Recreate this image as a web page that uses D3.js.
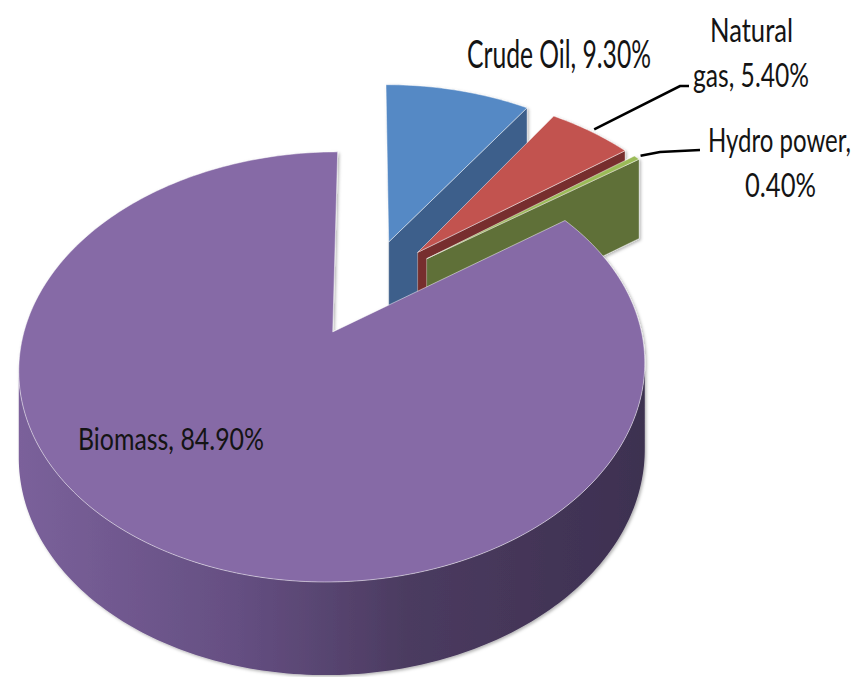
<!DOCTYPE html>
<html>
<head>
<meta charset="utf-8">
<script src="https://d3js.org/d3.v7.min.js"></script>
<title>Energy sources</title>
<style>
body { margin: 0; background: #fff; }
text { font-family: Lato, "Open Sans", sans-serif; fill: #141414; }
</style>
</head>
<body>
<div id="chart"></div>
<script>
// data
const categories = ["Crude Oil", "Natural gas", "Hydro power", "Biomass"];
const shares = [9.3, 5.4, 0.4, 84.9];
const labelLines = [["Crude Oil, 9.30%"], ["Natural", "gas, 5.40%"], ["Hydro power,", "0.40%"], ["Biomass, 84.90%"]];

// styles
const topColors = ["#5589C5", "#C2534F", "#9BBB59", "#866AA6"];
const wallColors = ["#3E5F8B", "#772F2D", "#5E7038", "#5B4878"];
const fontSizes = [39, 32, 32, 31];
// label placement, one entry per line : left x, baseline y, ink width
const labelLayout = [
  [{x: 467, y: 68, w: 184}],
  [{x: 710, y: 42, w: 83}, {x: 693, y: 87, w: 116}],
  [{x: 708, y: 152, w: 143}, {x: 745, y: 197, w: 71}],
  [{x: 78, y: 450, w: 186}]
];
// leader elbows (only the two labels that have one)
const leaders = {1: [[680, 86], [689, 86]], 2: [[660, 152], [700, 150]]};

const W = 858, H = 677;

// pseudo perspective of the pie : X to the right, Z away from the viewer
const cx = 368, cy = 287, Bh = 298, A = 195, u = 0.157;
const depthPx = 84, uh = 0.08, explode = 0.25;
function proj(X, Z, bottom) {
  const w = 1 + u * Z;
  return [cx + Bh * X / w, cy - A * Z / w + (bottom ? depthPx / (1 + uh * Z) : 0)];
}

const svg = d3.select("#chart").append("svg")
  .attr("width", W).attr("height", H);

const defs = svg.append("defs");
const grad = defs.append("linearGradient")
  .attr("id", "sideGrad")
  .attr("gradientUnits", "userSpaceOnUse")
  .attr("x1", 15).attr("x2", 650).attr("y1", 0).attr("y2", 0);
grad.append("stop").attr("offset", "0%").attr("stop-color", "#7B619B");
grad.append("stop").attr("offset", "35%").attr("stop-color", "#654F82");
grad.append("stop").attr("offset", "62%").attr("stop-color", "#4B3B60");
grad.append("stop").attr("offset", "100%").attr("stop-color", "#3D3050");

const shadow = defs.append("filter").attr("id", "shadow")
  .attr("x", "-10%").attr("y", "-10%").attr("width", "120%").attr("height", "120%");
shadow.append("feDropShadow")
  .attr("dx", 1.5).attr("dy", 1.5).attr("stdDeviation", 1.5)
  .attr("flood-color", "#000").attr("flood-opacity", 0.3);

const arcs = d3.pie().sort(null).value(d => d)(shares);
const line = d3.line();

const slices = arcs.map((a, i) => {
  const mid = (a.startAngle + a.endAngle) / 2;
  return {
    i: i,
    a0: a.startAngle,
    a1: a.endAngle,
    ox: explode * Math.sin(mid),
    oz: explode * Math.cos(mid)
  };
});

const pie = svg.append("g").attr("filter", "url(#shadow)");

// farthest slices first
slices.slice().sort((p, q) => q.oz - p.oz).forEach(s => {
  const rim = (a, bottom) => proj(s.ox + Math.sin(a), s.oz + Math.cos(a), bottom);
  const apex = bottom => proj(s.ox, s.oz, bottom);
  const angles = (lo, hi) => {
    const n = Math.max(2, Math.ceil((hi - lo) / (Math.PI / 180)));
    return d3.range(n + 1).map(k => lo + (hi - lo) * k / n);
  };
  const g = pie.append("g");

  // radial walls
  if (Math.sin(s.a1) > 1e-6) {
    g.append("path")
      .attr("d", line([apex(false), rim(s.a1, false), rim(s.a1, true), apex(true)]) + "Z")
      .attr("fill", wallColors[s.i])
      .attr("stroke", "rgba(255,255,255,0.45)").attr("stroke-width", 0.8);
  }
  if (Math.sin(s.a0) < -1e-6) {
    g.append("path")
      .attr("d", line([apex(false), rim(s.a0, false), rim(s.a0, true), apex(true)]) + "Z")
      .attr("fill", wallColors[s.i])
      .attr("stroke", "rgba(255,255,255,0.45)").attr("stroke-width", 0.8);
  }

  // outer side, between the two silhouette angles
  const full = angles(0, 2 * Math.PI);
  const front = full.filter(a => a <= Math.PI);
  const back = full.filter(a => a >= Math.PI);
  const aR = d3.greatest(front, a => rim(a, false)[0]);
  const aL = d3.least(back, a => rim(a, false)[0]);
  const lo = Math.max(s.a0, aR), hi = Math.min(s.a1, aL);
  if (hi > lo) {
    const ang = angles(lo, hi);
    const pts = ang.map(a => rim(a, false)).concat(ang.slice().reverse().map(a => rim(a, true)));
    g.append("path")
      .attr("d", line(pts) + "Z")
      .attr("fill", s.i === 3 ? "url(#sideGrad)" : wallColors[s.i]);
  }

  // top face
  const topPts = [apex(false)].concat(angles(s.a0, s.a1).map(a => rim(a, false)));
  g.append("path")
    .attr("d", line(topPts) + "Z")
    .attr("fill", topColors[s.i])
    .attr("stroke", "rgba(255,255,255,0.55)").attr("stroke-width", 0.9);
});

// leader lines
Object.keys(leaders).forEach(k => {
  const s = slices[+k];
  const mid = (s.a0 + s.a1) / 2;
  const start = proj(s.ox + 1.02 * Math.sin(mid), s.oz + 1.02 * Math.cos(mid), false);
  svg.append("path")
    .attr("d", line([start].concat(leaders[k])))
    .attr("fill", "none")
    .attr("stroke", "#000")
    .attr("stroke-width", 2.6);
});

// data labels
labelLines.forEach((lines, i) => {
  lines.forEach((t, j) => {
    const p = labelLayout[i][j];
    svg.append("text")
      .attr("x", p.x)
      .attr("y", p.y)
      .attr("font-size", fontSizes[i])
      .attr("textLength", p.w)
      .attr("lengthAdjust", "spacingAndGlyphs")
      .text(t);
  });
});
</script>
</body>
</html>
